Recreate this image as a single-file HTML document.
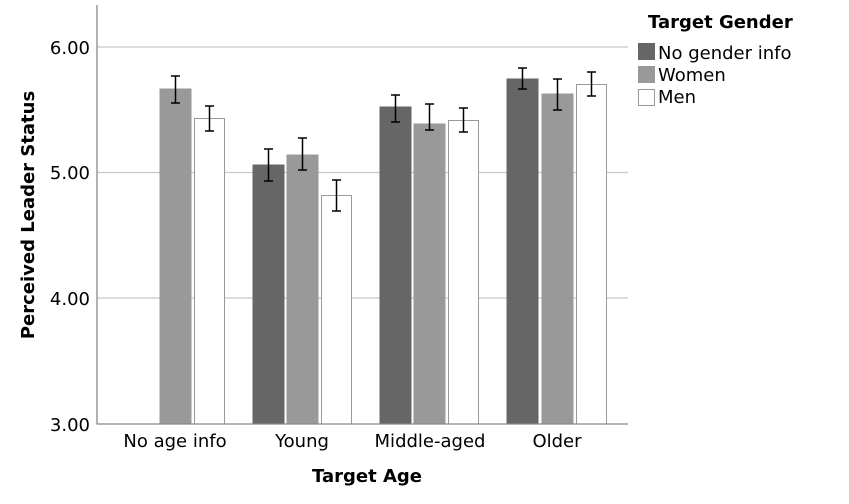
<!DOCTYPE html><html><head><style>body{margin:0;background:#fff}</style></head><body>
<svg width="849" height="499" xmlns="http://www.w3.org/2000/svg" font-family="'DejaVu Sans','Liberation Sans',sans-serif">
<rect width="849" height="499" fill="#fff"/>
<g stroke="#c8c8c8" stroke-width="1.3">
<line x1="97" y1="47" x2="628" y2="47"/><line x1="97" y1="172.5" x2="628" y2="172.5"/><line x1="97" y1="298" x2="628" y2="298"/>
</g>
<g stroke="#999" stroke-width="1">
<rect x="160" y="89" width="31" height="335" fill="#999"/>
<rect x="194.5" y="118.5" width="30" height="305.5" fill="#fff"/>
<rect x="253" y="165" width="31" height="259" fill="#666" stroke="#666"/>
<rect x="287" y="155" width="31" height="269" fill="#999"/>
<rect x="321.5" y="195.5" width="30" height="228.5" fill="#fff"/>
<rect x="380" y="107" width="31" height="317" fill="#666" stroke="#666"/>
<rect x="414" y="124" width="31" height="300" fill="#999"/>
<rect x="448.5" y="120.5" width="30" height="303.5" fill="#fff"/>
<rect x="507" y="79" width="31" height="345" fill="#666" stroke="#666"/>
<rect x="542" y="94" width="31" height="330" fill="#999"/>
<rect x="576.5" y="84.5" width="30" height="339.5" fill="#fff"/>
</g>
<g stroke="#000" stroke-width="1.5" fill="none">
<path d="M175.5 76v27M171 76h9M171 103h9"/>
<path d="M209.5 106v25M205 106h9M205 131h9"/>
<path d="M268.5 149v32M264 149h9M264 181h9"/>
<path d="M302.5 138v32M298 138h9M298 170h9"/>
<path d="M336.5 180v31M332 180h9M332 211h9"/>
<path d="M395.5 95v27M391 95h9M391 122h9"/>
<path d="M429.5 104v26M425 104h9M425 130h9"/>
<path d="M463.5 108v24M459 108h9M459 132h9"/>
<path d="M522.5 68v21M518 68h9M518 89h9"/>
<path d="M557.5 79v31M553 79h9M553 110h9"/>
<path d="M591.5 72v24M587 72h9M587 96h9"/>
</g>
<line x1="97" y1="5" x2="97" y2="424.5" stroke="#888" stroke-width="1.3"/>
<line x1="97" y1="424" x2="628" y2="424" stroke="#888" stroke-width="1.3"/>
<g font-size="18" text-anchor="end" fill="#000">
<text x="90" y="54">6.00</text><text x="90" y="179">5.00</text><text x="90" y="305">4.00</text><text x="90" y="431">3.00</text>
</g>
<g font-size="18" text-anchor="middle">
<text x="175" y="447">No age info</text><text x="302" y="447">Young</text><text x="430" y="447">Middle-aged</text><text x="557" y="447">Older</text>
</g>
<text x="367" y="482" font-size="18" font-weight="bold" text-anchor="middle">Target Age</text>
<text transform="translate(34,215) rotate(-90)" font-size="18" font-weight="bold" text-anchor="middle">Perceived Leader Status</text>
<text x="648" y="28" font-size="18" font-weight="bold">Target Gender</text>
<rect x="638" y="43" width="17" height="17" fill="#666"/>
<rect x="638" y="66" width="17" height="17" fill="#999"/>
<rect x="638.5" y="89.5" width="16" height="16" fill="#fff" stroke="#999"/>
<g font-size="18"><text x="658" y="59">No gender info</text><text x="658" y="81">Women</text><text x="658" y="103">Men</text></g>
</svg>
</body></html>
